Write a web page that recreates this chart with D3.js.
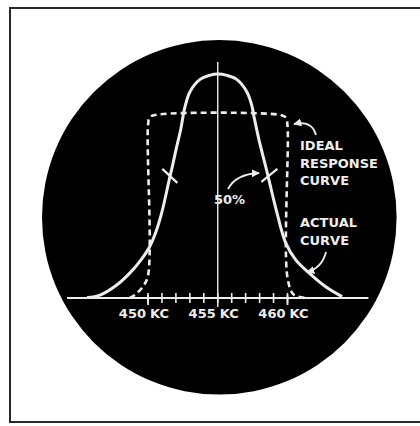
<!DOCTYPE html>
<html>
<head>
<meta charset="utf-8">
<script src="https://cdn.jsdelivr.net/npm/d3@7"></script>
<style>
  html, body { margin: 0; padding: 0; background: #ffffff; }
  svg { display: block; }
  text { font-family: "DejaVu Sans", sans-serif; font-weight: bold; fill: #ededed; }
</style>
</head>
<body>
<svg id="chart" width="420" height="426"></svg>
<script>
// ---- data (frequency in kc, response in % of peak) ----
const actualFreq = [445.63, 446.56, 447.76, 448.71, 449.50, 450.11, 450.54, 450.98, 451.52, 451.79, 452.05, 452.33, 452.65, 453.01, 453.73, 454.41, 455.0,
                    455.66, 456.36, 457.08, 457.43, 457.60, 457.96, 458.44, 458.67, 459.25, 459.87, 460.59, 461.54, 462.74, 463.91];
const actualResp = [0.2, 1.3, 5.8, 11.2, 17.0, 22.8, 29.0, 38.0, 52.7, 60.0, 67.4, 74.8, 85.3, 92.1, 97.6, 99.4, 100,
                    99.4, 97.6, 92.1, 86.2, 80.9, 70.5, 58.6, 52.7, 37.9, 24.6, 17.0, 11.2, 5.0, 0.6];
const idealFreq = [448.7, 449.05, 449.62, 450.0, 450.0, 450.12, 450.5, 459.5, 459.88, 460.0, 460.0, 460.45, 461.3];
const idealResp = [0, 1.3, 5.0, 10.0, 77.0, 80.6, 81.7, 81.7, 80.6, 77.0, 9.0, 1.5, 0];
const minorTicks = [450, 451, 452, 453, 454, 455, 456, 457, 458, 459, 460];
const tickLabels = [450, 455, 460];
const unitLabel = "KC";
const axisExtent = [444.2, 465.8];
const centerFreq = 455;
const halfPowerFreq = [451.6, 458.7];   // 50% marks
const halfPowerResp = [54.5, 55.0];
const idealLabel = ["IDEAL", "RESPONSE", "CURVE"];
const actualLabel = ["ACTUAL", "CURVE"];
const pctLabel = "50%";

// ---- layout ----
const svg = d3.select("#chart");
const ink = "#ededed";
const x = d3.scaleLinear().domain([450, 460]).range([148, 287.5]);
const y = d3.scaleLinear().domain([0, 100]).range([298, 74]);

// frame
svg.append("line").attr("x1", 10).attr("y1", 8).attr("x2", 420).attr("y2", 8)
  .attr("stroke", "#2a2a22").attr("stroke-width", 2);
svg.append("line").attr("x1", 10).attr("y1", 7).attr("x2", 10).attr("y2", 423)
  .attr("stroke", "#2a2a22").attr("stroke-width", 2);
svg.append("line").attr("x1", 10).attr("y1", 422).attr("x2", 420).attr("y2", 422)
  .attr("stroke", "#2a2a22").attr("stroke-width", 2);

// scope screen
svg.append("circle").attr("cx", 219.3).attr("cy", 217.3).attr("r", 177.3).attr("fill", "#000");

const defs = svg.append("defs");
defs.append("marker").attr("id", "arrow").attr("viewBox", "0 0 10 10")
  .attr("refX", 9).attr("refY", 5).attr("markerWidth", 4.5).attr("markerHeight", 4.5)
  .attr("markerUnits", "strokeWidth").attr("orient", "auto")
  .append("path").attr("d", "M0,0 L10,5 L0,10 Z").attr("fill", ink);

// baseline axis
svg.append("line")
  .attr("x1", x(axisExtent[0])).attr("x2", x(axisExtent[1]))
  .attr("y1", y(0)).attr("y2", y(0))
  .attr("stroke", ink).attr("stroke-width", 2);

// minor ticks
svg.append("g").selectAll("line").data(minorTicks).join("line")
  .attr("x1", d => x(d)).attr("x2", d => x(d))
  .attr("y1", y(0) - 5).attr("y2", y(0) + 5)
  .attr("stroke", ink).attr("stroke-width", 1.6);

// center line
svg.append("line")
  .attr("x1", x(centerFreq)).attr("x2", x(centerFreq))
  .attr("y1", 62).attr("y2", y(0) + 9)
  .attr("stroke", ink).attr("stroke-width", 1.4);

// ideal (dashed) curve
const line = d3.line().curve(d3.curveCatmullRom.alpha(0.5));
svg.append("path")
  .attr("d", line(idealFreq.map((f, i) => [x(f), y(idealResp[i])])))
  .attr("fill", "none").attr("stroke", ink).attr("stroke-width", 2.6)
  .attr("stroke-dasharray", "6,4");

// dashed extensions of ideal verticals below axis
svg.append("g").selectAll("line").data([450, 460]).join("line")
  .attr("x1", d => x(d)).attr("x2", d => x(d))
  .attr("y1", y(0) - 3).attr("y2", y(0) + 7)
  .attr("stroke", ink).attr("stroke-width", 1.8);

// actual curve
svg.append("path")
  .attr("d", line(actualFreq.map((f, i) => [x(f), y(actualResp[i])])))
  .attr("fill", "none").attr("stroke", ink).attr("stroke-width", 3);

// 50% marks across the curve
svg.append("line").attr("x1", x(halfPowerFreq[0]) - 8).attr("y1", y(halfPowerResp[0]) - 7)
  .attr("x2", x(halfPowerFreq[0]) + 7).attr("y2", y(halfPowerResp[0]) + 7)
  .attr("stroke", ink).attr("stroke-width", 2.2);
svg.append("line").attr("x1", x(halfPowerFreq[1]) - 8).attr("y1", y(halfPowerResp[1]) + 7)
  .attr("x2", x(halfPowerFreq[1]) + 8).attr("y2", y(halfPowerResp[1]) - 6)
  .attr("stroke", ink).attr("stroke-width", 2.2);

// tick labels
const lab = svg.append("g").style("font-size", "13px");
tickLabels.forEach(v => {
  lab.append("text").attr("x", x(v) - 2).attr("y", 317.5).attr("text-anchor", "end").text(v);
  lab.append("text").attr("x", x(v) + 2).attr("y", 317.5).attr("text-anchor", "start").text(unitLabel);
});

// annotations
const ann = svg.append("g").style("font-size", "13px");
idealLabel.forEach((t, i) => ann.append("text").attr("x", 300).attr("y", 150 + i * 17.5).text(t));
actualLabel.forEach((t, i) => ann.append("text").attr("x", 300).attr("y", 227 + i * 17.5).text(t));
ann.append("text").attr("x", 214).attr("y", 203.5).text(pctLabel);

// arrows
const arrow = d => svg.append("path").attr("d", d).attr("fill", "none")
  .attr("stroke", ink).attr("stroke-width", 1.8).attr("marker-end", "url(#arrow)");
arrow("M228,189 Q236,174 259,173");
arrow("M316,135 Q312,120 294,124");
arrow("M326,252 Q322,268 307,272");
</script>
</body>
</html>
